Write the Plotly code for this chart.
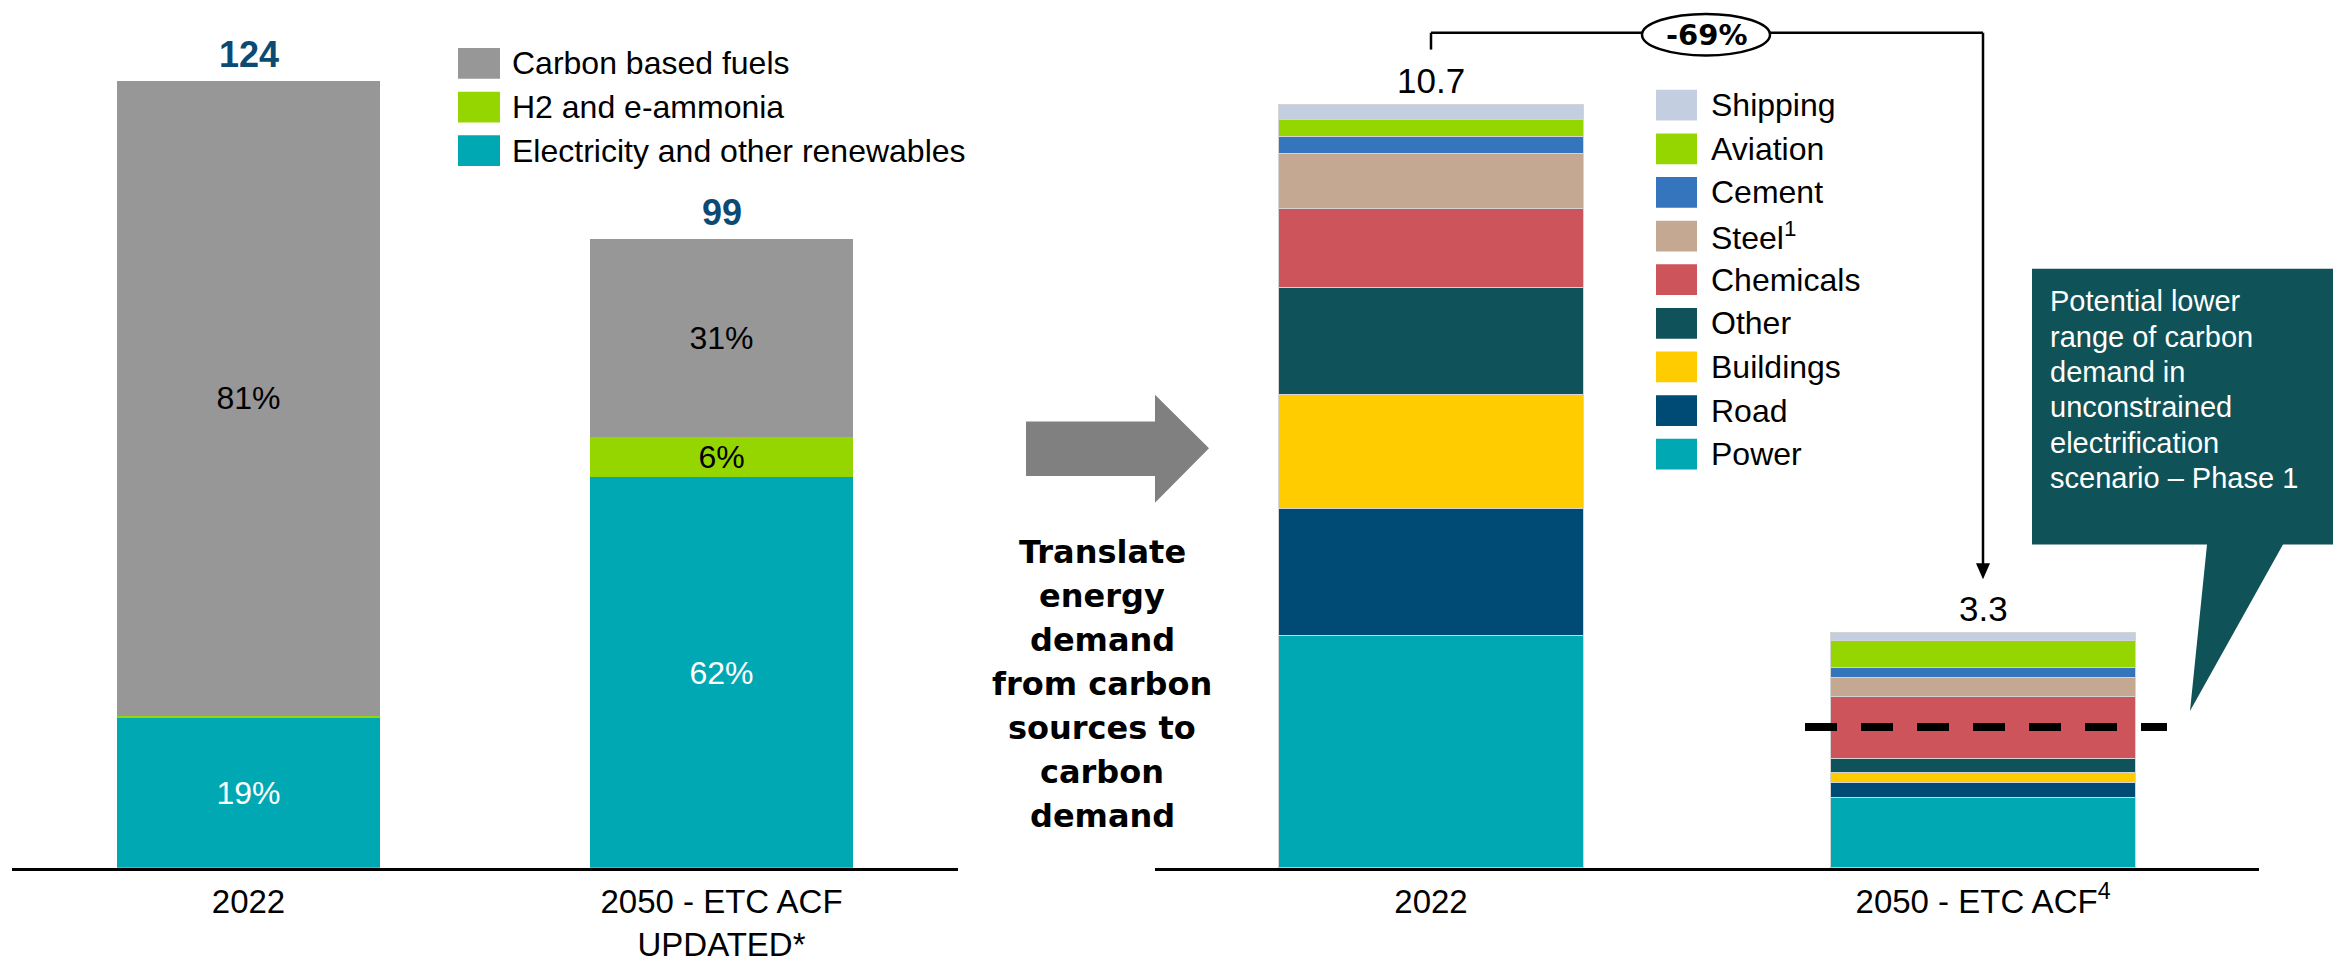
import plotly.graph_objects as go

W, H = 2346, 963

# ---------------- data ----------------
left_categories = ["2022", "2050 - ETC ACF<br>UPDATED*"]
left_series = ["Electricity and other renewables", "H2 and e-ammonia", "Carbon based fuels"]
electricity = [23.6, 61.5]
h2 = [0.3, 6.3]
carbon = [100.1, 31.2]
electricity_pct = ["19%", "62%"]
h2_pct = ["", "6%"]
carbon_pct = ["81%", "31%"]
left_totals = [124, 99]

right_categories = ["2022", "2050 - ETC ACF<sup>4</sup>"]
sectors = ["Power", "Road", "Buildings", "Other", "Chemicals", "Steel<sup>1</sup>", "Cement", "Aviation", "Shipping"]
power = [3.26, 0.98]
road = [1.77, 0.22]
buildings = [1.60, 0.13]
other = [1.50, 0.20]
chemicals = [1.11, 0.87]
steel = [0.77, 0.26]
cement = [0.24, 0.14]
aviation = [0.24, 0.38]
shipping = [0.21, 0.12]
right_totals = [10.7, 3.3]
reduction_label = "-69%"

middle_text = ["Translate", "energy", "demand", "from carbon", "sources to", "carbon", "demand"]
callout_text = ["Potential lower", "range of carbon", "demand in", "unconstrained",
                "electrification", "scenario \u2013 Phase 1"]

# ---------------- styles ----------------
left_colors = {"Electricity and other renewables": "#00A8B4",
               "H2 and e-ammonia": "#96D600",
               "Carbon based fuels": "#979797"}
sector_colors = {"Power": "#00A8B4", "Road": "#004A76", "Buildings": "#FFCC00",
                 "Other": "#10525A", "Chemicals": "#CD545B", "Steel<sup>1</sup>": "#C4A892",
                 "Cement": "#3575BE", "Aviation": "#96D600", "Shipping": "#C3CEE0"}
FONT = "Liberation Sans, Arial, sans-serif"
BOLD_FONT = "DejaVu Sans, Liberation Sans, Arial, sans-serif"
TOTAL_BLUE = "#0D4A73"
CALLOUT = "#0F5257"


def px(x):
    return x / W


def py(y):
    return 1 - y / H


fig = go.Figure()

left_values = [electricity, h2, carbon]
left_texts = [electricity_pct, h2_pct, carbon_pct]
left_text_colors = ["white", "black", "black"]
for name, vals, txt, tc in zip(left_series, left_values, left_texts, left_text_colors):
    fig.add_trace(go.Bar(
        x=left_categories, y=vals, name=name, text=txt, width=0.556,
        marker=dict(color=left_colors[name], line=dict(width=0)),
        textposition="inside", insidetextanchor="middle", constraintext="none",
        textfont=dict(family=FONT, size=32, color=tc),
        xaxis="x", yaxis="y", showlegend=False, hoverinfo="skip"))

right_values = [power, road, buildings, other, chemicals, steel, cement, aviation, shipping]
for name, vals in zip(sectors, right_values):
    fig.add_trace(go.Bar(
        x=right_categories, y=vals, name=name, width=0.553,
        marker=dict(color=sector_colors[name], line=dict(width=1, color="#D4D4D4")),
        xaxis="x2", yaxis="y2", showlegend=False, hoverinfo="skip"))

ydom = [py(875), 1]
axis_common = dict(type="category", range=[-0.5, 1.5], showline=True, linecolor="black",
                   linewidth=3, ticks="", showgrid=False, zeroline=False, fixedrange=True,
                   ticklabelstandoff=3,
                   tickfont=dict(family=FONT, size=33, color="black"))
fig.update_layout(
    width=W, height=H, margin=dict(l=0, r=0, t=0, b=0),
    paper_bgcolor="white", plot_bgcolor="white", barmode="stack",
    xaxis=dict(domain=[px(12), px(958)], anchor="y", **axis_common),
    yaxis=dict(domain=ydom, range=[0, 875 / 6.40], visible=False, fixedrange=True),
    xaxis2=dict(domain=[px(1155), px(2259)], anchor="y2", **axis_common),
    yaxis2=dict(domain=ydom, range=[0, 875 / 71.96], visible=False, fixedrange=True, anchor="x2"),
    font=dict(family=FONT),
)

shapes = []
annotations = []

# totals (category axes take serial index positions)
for i, tot in enumerate(left_totals):
    annotations.append(dict(x=i, y=tot, xref="x", yref="y", text=f"<b>{tot}</b>",
                            showarrow=False, xanchor="center", yanchor="bottom", yshift=4,
                            font=dict(family=FONT, size=36, color=TOTAL_BLUE)))
for i, tot in enumerate(right_totals):
    annotations.append(dict(x=i, y=tot, xref="x2", yref="y2", text=f"{tot}",
                            showarrow=False, xanchor="center", yanchor="bottom", yshift=2,
                            font=dict(family=FONT, size=35, color="black")))

# left legend (top to bottom)
for i, name in enumerate(reversed(left_series)):
    cy = 64 + 44 * i
    shapes.append(dict(type="rect", xref="paper", yref="paper", x0=px(458), x1=px(500),
                       y0=py(cy + 15.5), y1=py(cy - 15.5), fillcolor=left_colors[name],
                       line=dict(width=0)))
    annotations.append(dict(x=px(510), y=py(cy), xref="paper", yref="paper", text=name,
                            showarrow=False, xanchor="left", yanchor="middle",
                            font=dict(family=FONT, size=32, color="black")))

# right legend (top to bottom)
for i, name in enumerate(reversed(sectors)):
    cy = 106 + 44 * i
    shapes.append(dict(type="rect", xref="paper", yref="paper", x0=px(1656), x1=px(1697),
                       y0=py(cy + 15.5), y1=py(cy - 15.5), fillcolor=sector_colors[name],
                       line=dict(width=0)))
    annotations.append(dict(x=px(1709), y=py(cy), xref="paper", yref="paper", text=name,
                            showarrow=False, xanchor="left", yanchor="middle",
                            font=dict(family=FONT, size=32, color="black")))

# grey transition arrow
arrow_path = (f"M {px(1026)},{py(425)} L {px(1155)},{py(425)} L {px(1155)},{py(398)} "
              f"L {px(1209)},{py(452)} L {px(1155)},{py(507)} L {px(1155)},{py(480)} "
              f"L {px(1026)},{py(480)} Z")
shapes.append(dict(type="path", xref="paper", yref="paper", path=arrow_path,
                   fillcolor="#808080", line=dict(width=0)))
for i, line in enumerate(middle_text):
    annotations.append(dict(x=px(1102), y=py(557 + 44.3 * i), xref="paper", yref="paper",
                            text=f"<b>{line}</b>", showarrow=False, xanchor="center",
                            yanchor="middle", font=dict(family=BOLD_FONT, size=32, color="black")))

# bracket with reduction
shapes.append(dict(type="line", xref="x2", yref="paper", x0=0, x1=0, y0=py(50), y1=py(33),
                   line=dict(color="black", width=2.5)))
shapes.append(dict(type="line", xref="x2", yref="paper", x0=0, x1=1, y0=py(33), y1=py(33),
                   line=dict(color="black", width=2.5)))
shapes.append(dict(type="line", xref="x2", yref="paper", x0=1, x1=1, y0=py(33), y1=py(572),
                   line=dict(color="black", width=2.5)))
shapes.append(dict(type="path", xref="paper", yref="paper",
                   path=f"M {px(1976)},{py(568)} L {px(1990)},{py(568)} L {px(1983)},{py(584)} Z",
                   fillcolor="black", line=dict(width=0)))
shapes.append(dict(type="circle", xref="paper", yref="paper", x0=px(1642), x1=px(1770),
                   y0=py(56), y1=py(14), fillcolor="white", line=dict(color="black", width=2.5)))
annotations.append(dict(x=px(1706), y=py(35), xref="paper", yref="paper",
                        text=f"<b>{reduction_label}</b>", showarrow=False,
                        xanchor="center", yanchor="middle",
                        font=dict(family=BOLD_FONT, size=29, color="black")))

# dashed potential lower range line
shapes.append(dict(type="line", xref="paper", yref="paper", x0=px(1805), x1=px(2167),
                   y0=py(733), y1=py(733), line=dict(color="black", width=8, dash="32px,24px")))

# callout
callout_path = (f"M {px(2032)},{py(271)} L {px(2333)},{py(271)} L {px(2333)},{py(549)} "
                f"L {px(2283)},{py(549)} L {px(2190)},{py(717)} L {px(2207)},{py(549)} "
                f"L {px(2032)},{py(549)} Z")
shapes.append(dict(type="path", xref="paper", yref="paper", path=callout_path,
                   fillcolor=CALLOUT, line=dict(width=0)))
for i, line in enumerate(callout_text):
    annotations.append(dict(x=px(2048), y=py(304 + 35.6 * i), xref="paper", yref="paper",
                            text=line, showarrow=False, xanchor="left", yanchor="middle",
                            font=dict(family=FONT, size=29, color="white")))

fig.update_layout(shapes=shapes, annotations=annotations)
fig.write_html("out.html", config={"displayModeBar": False},
               post_script="document.body.style.margin='0px';")
